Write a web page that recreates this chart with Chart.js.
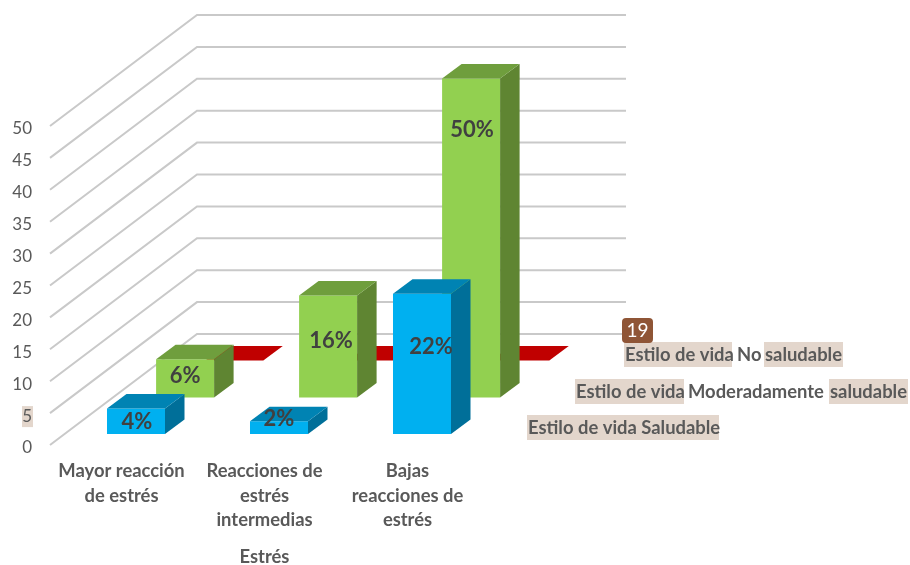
<!DOCTYPE html>
<html>
<head>
<meta charset="utf-8">
<title>Estilo de vida y estrés</title>
<script src="https://cdn.jsdelivr.net/npm/chart.js@4"></script>
<style>
    html, body { margin: 0; padding: 0; background: #ffffff; }
    canvas { display: block; }
</style>
</head>
<body>
<canvas id="chart" width="910" height="565"></canvas>
<script>
    const categories = [
        ["Mayor reacción", "de estrés"],
        ["Reacciones de", "estrés", "intermedias"],
        ["Bajas", "reacciones de", "estrés"],
    ];
    const saludable = [4, 2, 22];
    const moderadamente = [6, 16, 50];
    const noSaludable = [0, 0, 0];

    const FONT = "Lato, Carlito, sans-serif";
    const GRID = "#c9c9c9";
    const TEXT = "#595959";
    const HIGHLIGHT = "#e3d6cc";

    // oblique projection of the 3d box, back wall relative to front plane
    const wallShift = { x: 147, y: -111 };
    const barDepth = { x: 19.5, y: -14.5 };

    // one entry per dataset: where its row sits in the depth of the box
    const rows = [
        { x: 14.5, y: -11, front: "#00b0f0", top: "#0083b3", side: "#006f99" },
        { x: 63.6, y: -47.5, front: "#92d050", top: "#6f9e3d", side: "#5f8532" },
        { x: 112.8, y: -84.5, front: "#c00000", top: "#c00000", side: "#900000" },
    ];

    // data labels were moved by hand in the original, offset from the bar's top-center
    const labelNudge = [
        [[1, 13], [0, -2], [9, 53]],
        [[0, 17], [3, 45], [1, 51]],
    ];

    // series names along the depth axis, partly highlighted
    const depthLabels = [
        { y: 355, parts: [
            { text: "Estilo de vida", x: 625, box: [624, 732] },
            { text: "No", x: 737 },
            { text: "saludable", x: 765, box: [764, 843] },
        ] },
        { y: 392, parts: [
            { text: "Estilo de vida", x: 576, box: [575, 684] },
            { text: "Moderadamente", x: 688 },
            { text: "saludable", x: 830, box: [829, 908] },
        ] },
        { y: 428, parts: [
            { text: "Estilo de vida Saludable", x: 528, box: [527, 719] },
        ] },
    ];

    const box3d = {
        id: "box3d",
        beforeDraw(chart) {
            const ctx = chart.ctx;
            const y5 = chart.scales.y.getPixelForValue(5);
            ctx.save();
            ctx.fillStyle = HIGHLIGHT;
            ctx.fillRect(22, y5 - 7, 11, 21);
            ctx.restore();
        },
        beforeDatasetsDraw(chart) {
            const ctx = chart.ctx;
            const { left, right } = chart.chartArea;
            ctx.save();
            ctx.strokeStyle = GRID;
            ctx.lineWidth = 2;
            chart.scales.y.ticks.forEach((tick) => {
                const y = chart.scales.y.getPixelForValue(tick.value);
                ctx.beginPath();
                ctx.moveTo(left, y);
                ctx.lineTo(left + wallShift.x, y + wallShift.y);
                ctx.lineTo(right + wallShift.x, y + wallShift.y);
                ctx.stroke();
            });
            ctx.restore();
        },
        beforeDatasetDraw(chart, args) {
            const row = rows[args.index];
            chart.ctx.save();
            chart.ctx.translate(row.x, row.y);
        },
        afterDatasetDraw(chart, args) {
            const ctx = chart.ctx;
            const row = rows[args.index];
            args.meta.data.forEach((bar) => {
                const x1 = bar.x - bar.width / 2;
                const x2 = bar.x + bar.width / 2;
                ctx.fillStyle = row.side;
                ctx.beginPath();
                ctx.moveTo(x2, bar.y);
                ctx.lineTo(x2 + barDepth.x, bar.y + barDepth.y);
                ctx.lineTo(x2 + barDepth.x, bar.base + barDepth.y);
                ctx.lineTo(x2, bar.base);
                ctx.closePath();
                ctx.fill();
                ctx.fillStyle = row.top;
                ctx.beginPath();
                ctx.moveTo(x1, bar.y);
                ctx.lineTo(x2, bar.y);
                ctx.lineTo(x2 + barDepth.x, bar.y + barDepth.y);
                ctx.lineTo(x1 + barDepth.x, bar.y + barDepth.y);
                ctx.closePath();
                ctx.fill();
            });
            ctx.restore();
        },
        afterDatasetsDraw(chart) {
            const ctx = chart.ctx;
            ctx.save();
            ctx.textBaseline = "middle";

            // value labels, only the two visible rows have them
            ctx.font = "bold 22px " + FONT;
            ctx.fillStyle = "#404040";
            ctx.textAlign = "center";
            labelNudge.forEach((nudges, d) => {
                const meta = chart.getDatasetMeta(d);
                meta.data.forEach((bar, i) => {
                    const value = chart.data.datasets[d].data[i];
                    ctx.fillText(value + "%", bar.x + rows[d].x + nudges[i][0], bar.y + rows[d].y + nudges[i][1]);
                });
            });

            // depth axis labels
            ctx.textAlign = "left";
            ctx.font = "bold 18.4px " + FONT;
            depthLabels.forEach((row) => {
                row.parts.forEach((part) => {
                    if (part.box) {
                        ctx.fillStyle = HIGHLIGHT;
                        ctx.fillRect(part.box[0], row.y - 13, part.box[1] - part.box[0], 25);
                    }
                    ctx.fillStyle = TEXT;
                    ctx.fillText(part.text, part.x, row.y);
                });
            });

            // page number badge left by the viewer
            ctx.fillStyle = "#8f5536";
            ctx.beginPath();
            ctx.roundRect(622, 318, 31, 25, 4);
            ctx.fill();
            ctx.fillStyle = "#ffffff";
            ctx.font = "19px " + FONT;
            ctx.textAlign = "center";
            ctx.fillText("19", 637.5, 331);
            ctx.restore();
        },
    };

    new Chart(document.getElementById("chart"), {
        type: "bar",
        plugins: [box3d],
        data: {
            labels: categories,
            datasets: [
                { label: "Estilo de vida Saludable", data: saludable, backgroundColor: rows[0].front },
                { label: "Estilo de vida Moderadamente saludable", data: moderadamente, backgroundColor: rows[1].front },
                { label: "Estilo de vida No saludable", data: noSaludable, backgroundColor: rows[2].front },
            ],
        },
        options: {
            responsive: false,
            animation: false,
            layout: { padding: { top: 126, right: 431, left: 0, bottom: 0 } },
            datasets: {
                bar: { grouped: false, barPercentage: 0.4056, categoryPercentage: 1, clip: false },
            },
            plugins: { legend: { display: false }, tooltip: { enabled: false } },
            scales: {
                x: {
                    grid: { display: false },
                    border: { display: false },
                    afterFit(scale) {
                        scale.height = 120;
                    },
                    ticks: {
                        color: TEXT,
                        font: { family: FONT, size: 18.4, weight: "bold", lineHeight: 1.33 },
                        maxRotation: 0,
                        autoSkip: false,
                        padding: 6,
                    },
                    title: {
                        display: true,
                        text: "Estrés",
                        color: TEXT,
                        font: { family: FONT, size: 18.4, weight: "bold" },
                        padding: { top: 0, bottom: -3 },
                    },
                },
                y: {
                    min: 0,
                    max: 50,
                    grid: { display: false },
                    border: { display: false },
                    afterFit(scale) {
                        scale.width = 50;
                    },
                    ticks: {
                        stepSize: 5,
                        color: TEXT,
                        font: { family: FONT, size: 17 },
                        padding: 10,
                        labelOffset: 3,
                    },
                },
            },
        },
    });
</script>
</body>
</html>
